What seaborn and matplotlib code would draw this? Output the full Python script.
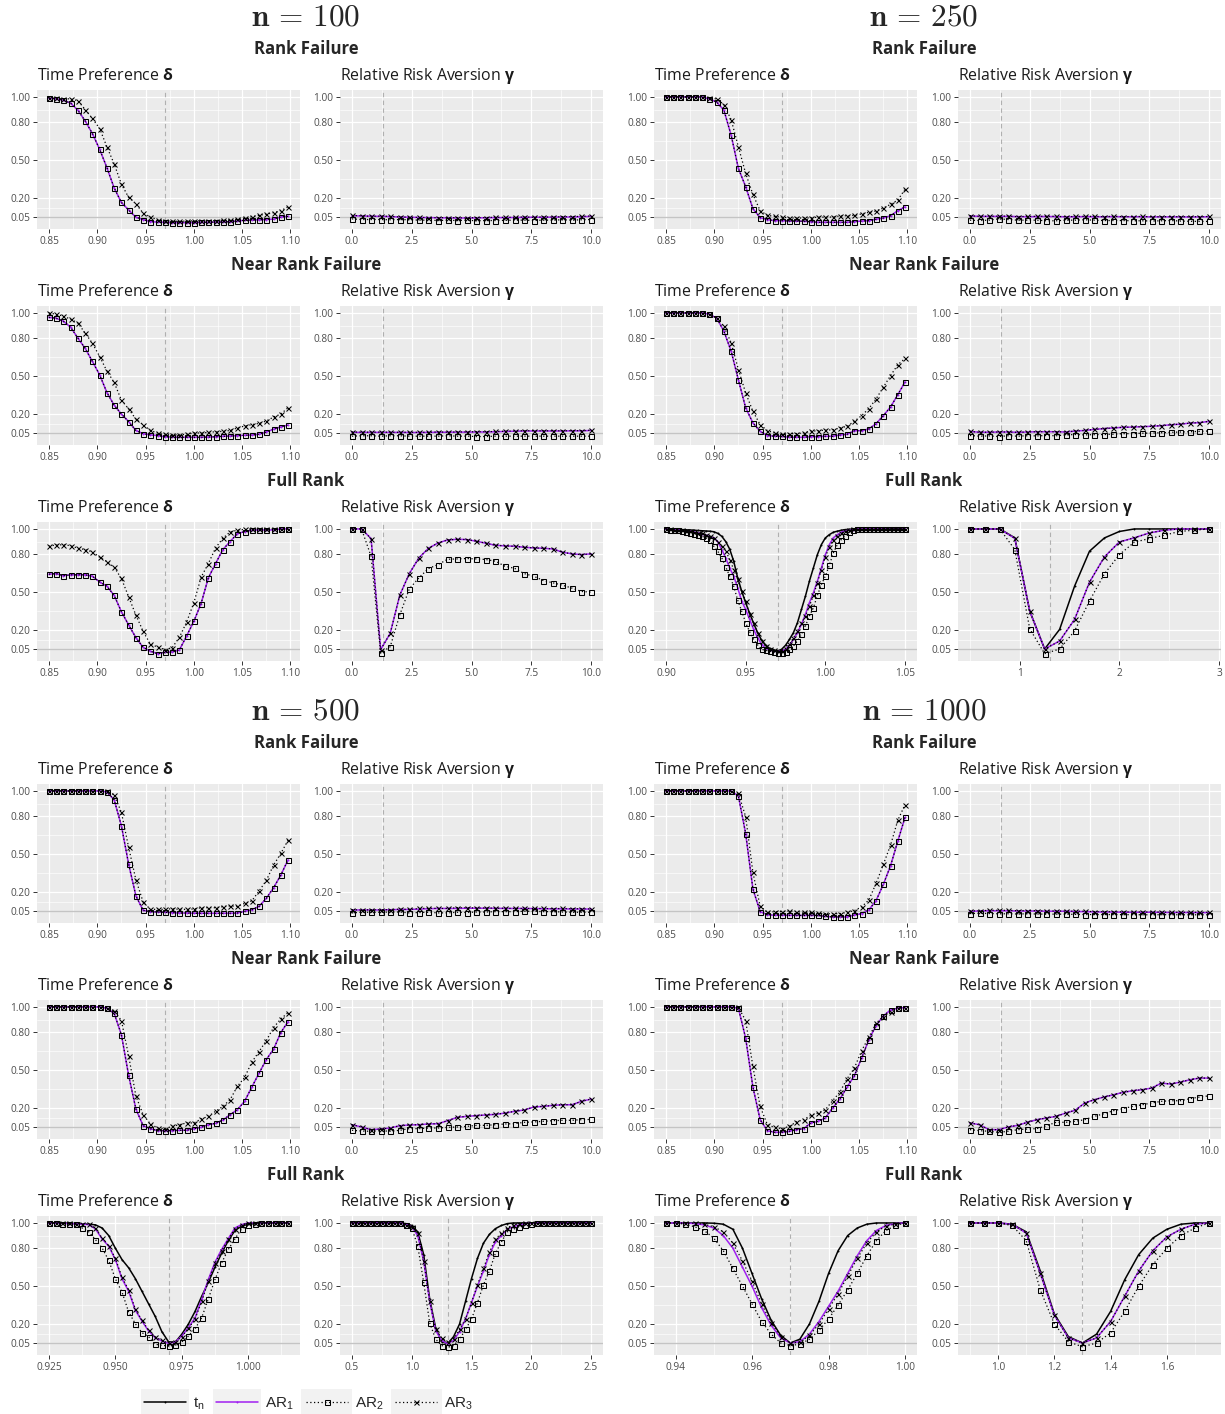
import matplotlib
matplotlib.use("Agg")
import matplotlib.pyplot as plt
from matplotlib.lines import Line2D
from matplotlib.patches import Rectangle
from matplotlib.font_manager import FontProperties
import seaborn as sns

W, H = 1225, 1414

# ---------------- parameter grids ----------------
DELTA = [0.85, 0.8575, 0.865, 0.8725, 0.88, 0.8875, 0.895, 0.9025, 0.91, 0.9175,
         0.925, 0.9325, 0.94, 0.9475, 0.955, 0.9625, 0.97, 0.9775, 0.985, 0.9925,
         1.0, 1.0075, 1.015, 1.0225, 1.03, 1.0375, 1.045, 1.0525, 1.06, 1.0675,
         1.075, 1.0825, 1.09, 1.0975]
GAMMA = [0.0, 0.4, 0.8, 1.2, 1.6, 2.0, 2.4, 2.8, 3.2, 3.6, 4.0, 4.4, 4.8, 5.2, 5.6,
         6.0, 6.4, 6.8, 7.2, 7.6, 8.0, 8.4, 8.8, 9.2, 9.6, 10.0]
DELTA_250_FULL = [0.9, 0.9025, 0.905, 0.9075, 0.91, 0.9125, 0.915, 0.9175, 0.92, 0.9225,
                  0.925, 0.9275, 0.93, 0.9325, 0.935, 0.9375, 0.94, 0.9425, 0.945, 0.9475,
                  0.95, 0.9525, 0.955, 0.9575, 0.96, 0.9625, 0.965, 0.9675, 0.97, 0.9725,
                  0.975, 0.9775, 0.98, 0.9825, 0.985, 0.9875, 0.99, 0.9925, 0.995, 0.9975,
                  1.0, 1.0025, 1.005, 1.0075, 1.01, 1.0125, 1.015, 1.0175, 1.02, 1.0225,
                  1.025, 1.0275, 1.03, 1.0325, 1.035, 1.0375, 1.04, 1.0425, 1.045, 1.0475, 1.05]
GAMMA_250_FULL = [0.5, 0.65, 0.8, 0.95, 1.1, 1.25, 1.4, 1.55, 1.7, 1.85, 2.0, 2.15, 2.3,
                  2.45, 2.6, 2.75, 2.9]
DELTA_500_FULL = [0.925, 0.9275, 0.93, 0.9325, 0.935, 0.9375, 0.94, 0.9425, 0.945, 0.9475,
                  0.95, 0.9525, 0.955, 0.9575, 0.96, 0.9625, 0.965, 0.9675, 0.97, 0.9725,
                  0.975, 0.9775, 0.98, 0.9825, 0.985, 0.9875, 0.99, 0.9925, 0.995, 0.9975,
                  1.0, 1.0025, 1.005, 1.0075, 1.01, 1.0125, 1.015]
GAMMA_500_FULL = [0.5, 0.55, 0.6, 0.65, 0.7, 0.75, 0.8, 0.85, 0.9, 0.95, 1.0, 1.05, 1.1,
                  1.15, 1.2, 1.25, 1.3, 1.35, 1.4, 1.45, 1.5, 1.55, 1.6, 1.65, 1.7, 1.75,
                  1.8, 1.85, 1.9, 1.95, 2.0, 2.05, 2.1, 2.15, 2.2, 2.25, 2.3, 2.35, 2.4,
                  2.45, 2.5]
DELTA_1000_FULL = [0.9375, 0.94, 0.9425, 0.945, 0.9475, 0.95, 0.9525, 0.955, 0.9575, 0.96,
                   0.9625, 0.965, 0.9675, 0.97, 0.9725, 0.975, 0.9775, 0.98, 0.9825, 0.985,
                   0.9875, 0.99, 0.9925, 0.995, 0.9975, 1.0]
GAMMA_1000_FULL = [0.9, 0.95, 1.0, 1.05, 1.1, 1.15, 1.2, 1.25, 1.3, 1.35, 1.4, 1.45, 1.5,
                   1.55, 1.6, 1.65, 1.7, 1.75]

# ---------------- rejection rates: n = 100 ----------------
D100_RF_AR1 = [0.99, 0.985, 0.975, 0.95, 0.895, 0.81, 0.71, 0.585, 0.44, 0.28, 0.165, 0.105,
               0.048, 0.03, 0.013, 0.01, 0.008, 0.005, 0.005, 0.005, 0.005, 0.008, 0.008, 0.01,
               0.01, 0.013, 0.018, 0.024, 0.026, 0.028, 0.03, 0.033, 0.05, 0.055]
D100_RF_AR3 = [0.99, 0.99, 0.985, 0.985, 0.97, 0.90, 0.83, 0.75, 0.605, 0.47, 0.31, 0.205,
               0.155, 0.08, 0.048, 0.03, 0.02, 0.018, 0.015, 0.018, 0.02, 0.02, 0.02, 0.022,
               0.025, 0.028, 0.035, 0.042, 0.052, 0.063, 0.073, 0.084, 0.10, 0.13]
G100_RF_AR1 = [0.06, 0.058, 0.056, 0.055, 0.053, 0.05, 0.048, 0.046, 0.045, 0.044, 0.043, 0.042,
               0.042, 0.043, 0.044, 0.045, 0.045, 0.046, 0.047, 0.048, 0.048, 0.049, 0.05, 0.05,
               0.052, 0.055]
G100_RF_AR2 = [0.035, 0.03, 0.03, 0.03, 0.028, 0.03, 0.028, 0.025, 0.025, 0.022, 0.025, 0.022,
               0.025, 0.02, 0.022, 0.022, 0.023, 0.025, 0.025, 0.022, 0.025, 0.025, 0.028, 0.025,
               0.028, 0.03]
G100_RF_AR3 = [0.062, 0.06, 0.055, 0.057, 0.055, 0.05, 0.048, 0.047, 0.045, 0.044, 0.046, 0.044,
               0.043, 0.045, 0.045, 0.048, 0.047, 0.048, 0.05, 0.048, 0.05, 0.05, 0.052, 0.053,
               0.055, 0.058]
D100_NRF_AR1 = [0.965, 0.958, 0.934, 0.887, 0.80, 0.72, 0.616, 0.51, 0.37, 0.27, 0.20, 0.14,
                0.07, 0.045, 0.035, 0.03, 0.02, 0.018, 0.016, 0.016, 0.016, 0.016, 0.018, 0.02,
                0.024, 0.026, 0.029, 0.032, 0.034, 0.04, 0.058, 0.08, 0.098, 0.113]
D100_NRF_AR3 = [1.0, 0.99, 0.975, 0.95, 0.92, 0.84, 0.76, 0.655, 0.54, 0.45, 0.31, 0.24,
                0.16, 0.115, 0.07, 0.05, 0.043, 0.037, 0.035, 0.04, 0.05, 0.05, 0.055, 0.06,
                0.063, 0.07, 0.09, 0.105, 0.116, 0.126, 0.145, 0.176, 0.20, 0.25]
G100_NRF_AR1 = [0.055, 0.055, 0.055, 0.055, 0.055, 0.055, 0.054, 0.054, 0.055, 0.056, 0.056,
                0.057, 0.057, 0.058, 0.058, 0.06, 0.062, 0.064, 0.066, 0.066, 0.066, 0.066,
                0.066, 0.067, 0.067, 0.07]
G100_NRF_AR2 = [0.025, 0.028, 0.028, 0.025, 0.028, 0.028, 0.025, 0.025, 0.025, 0.025, 0.028,
                0.025, 0.025, 0.022, 0.022, 0.025, 0.025, 0.025, 0.025, 0.025, 0.025, 0.025,
                0.025, 0.025, 0.025, 0.025]
G100_NRF_AR3 = [0.058, 0.057, 0.056, 0.057, 0.056, 0.055, 0.056, 0.055, 0.056, 0.058, 0.057,
                0.058, 0.059, 0.06, 0.06, 0.062, 0.064, 0.066, 0.068, 0.068, 0.067, 0.068,
                0.067, 0.069, 0.068, 0.072]
D100_FR_AR1 = [0.642, 0.647, 0.63, 0.637, 0.637, 0.637, 0.626, 0.58, 0.547, 0.474, 0.345, 0.24,
               0.14, 0.063, 0.032, 0.013, 0.024, 0.026, 0.042, 0.153, 0.27, 0.41, 0.613, 0.726,
               0.837, 0.90, 0.963, 0.979, 0.99, 0.992, 0.992, 0.992, 1.0, 1.0]
D100_FR_AR3 = [0.863, 0.874, 0.874, 0.868, 0.847, 0.837, 0.818, 0.776, 0.742, 0.697, 0.608,
               0.463, 0.318, 0.19, 0.087, 0.066, 0.045, 0.06, 0.142, 0.263, 0.416, 0.618,
               0.726, 0.85, 0.926, 0.976, 0.99, 0.997, 1.0, 1.0, 1.0, 1.0, 1.0, 1.0]
G100_FR_AR1 = [1.0, 1.0, 0.924, 0.045, 0.174, 0.476, 0.647, 0.771, 0.847, 0.889, 0.913, 0.918,
               0.916, 0.903, 0.887, 0.871, 0.866, 0.863, 0.855, 0.85, 0.847, 0.842, 0.816,
               0.803, 0.797, 0.803]
G100_FR_AR2 = [1.0, 1.0, 0.784, 0.018, 0.068, 0.32, 0.526, 0.613, 0.687, 0.718, 0.76, 0.763,
               0.766, 0.763, 0.758, 0.745, 0.705, 0.689, 0.647, 0.626, 0.592, 0.574, 0.555,
               0.532, 0.505, 0.50]

# ---------------- rejection rates: n = 250 ----------------
D250_RF_AR1 = [1.0, 1.0, 1.0, 1.0, 1.0, 1.0, 0.984, 0.96, 0.895, 0.697, 0.434, 0.29, 0.116,
               0.045, 0.029, 0.021, 0.021, 0.018, 0.018, 0.016, 0.013, 0.008, 0.008, 0.008,
               0.008, 0.008, 0.013, 0.018, 0.021, 0.032, 0.042, 0.06, 0.10, 0.13]
D250_RF_AR3 = [1.0, 1.0, 1.0, 1.0, 1.0, 1.0, 0.992, 0.984, 0.94, 0.82, 0.605, 0.395, 0.229,
               0.10, 0.063, 0.055, 0.05, 0.042, 0.042, 0.042, 0.042, 0.05, 0.048, 0.05, 0.058,
               0.06, 0.063, 0.074, 0.087, 0.097, 0.121, 0.15, 0.184, 0.27]
G250_RF_AR1 = [0.058, 0.055, 0.055, 0.055, 0.055, 0.053, 0.052, 0.053, 0.054, 0.053, 0.052,
               0.052, 0.053, 0.052, 0.052, 0.053, 0.052, 0.052, 0.052, 0.051, 0.051, 0.051,
               0.051, 0.05, 0.051, 0.052]
G250_RF_AR2 = [0.025, 0.022, 0.025, 0.035, 0.03, 0.025, 0.025, 0.025, 0.02, 0.02, 0.025, 0.025,
               0.028, 0.025, 0.022, 0.022, 0.022, 0.02, 0.02, 0.018, 0.02, 0.022, 0.018, 0.016,
               0.015, 0.015]
G250_RF_AR3 = [0.06, 0.055, 0.055, 0.057, 0.057, 0.052, 0.055, 0.055, 0.056, 0.055, 0.052,
               0.054, 0.055, 0.055, 0.052, 0.055, 0.053, 0.053, 0.054, 0.052, 0.052, 0.053,
               0.052, 0.052, 0.052, 0.054]
D250_NRF_AR1 = [1.0, 1.0, 1.0, 1.0, 1.0, 1.0, 0.99, 0.96, 0.855, 0.697, 0.47, 0.25, 0.13,
                0.063, 0.03, 0.024, 0.024, 0.016, 0.016, 0.016, 0.021, 0.021, 0.024, 0.024,
                0.034, 0.04, 0.068, 0.068, 0.082, 0.124, 0.187, 0.256, 0.353, 0.454]
D250_NRF_AR3 = [1.0, 1.0, 1.0, 1.0, 1.0, 1.0, 0.995, 0.958, 0.895, 0.763, 0.552, 0.367, 0.222,
                0.116, 0.069, 0.05, 0.045, 0.045, 0.045, 0.05, 0.066, 0.066, 0.074, 0.074,
                0.09, 0.103, 0.143, 0.187, 0.243, 0.32, 0.412, 0.504, 0.59, 0.64]
G250_NRF_AR1 = [0.062, 0.056, 0.056, 0.058, 0.058, 0.055, 0.058, 0.06, 0.06, 0.06, 0.058,
                0.065, 0.07, 0.078, 0.085, 0.09, 0.095, 0.097, 0.1, 0.103, 0.108, 0.115,
                0.12, 0.128, 0.132, 0.142]
G250_NRF_AR2 = [0.03, 0.025, 0.027, 0.022, 0.028, 0.025, 0.028, 0.027, 0.03, 0.028, 0.035,
                0.038, 0.035, 0.037, 0.038, 0.04, 0.045, 0.045, 0.048, 0.05, 0.052, 0.055,
                0.058, 0.06, 0.063, 0.066]
D250_FR_TN = [1.0, 0.998, 0.997, 0.996, 0.995, 0.993, 0.992, 0.99, 0.988, 0.986, 0.984, 0.982,
              0.978, 0.965, 0.942, 0.9, 0.84, 0.745, 0.613, 0.508, 0.416, 0.332, 0.253, 0.18,
              0.12, 0.08, 0.055, 0.042, 0.034, 0.047, 0.079, 0.126, 0.18, 0.258, 0.363, 0.468,
              0.587, 0.692, 0.797, 0.876, 0.929, 0.955, 0.974, 0.982, 0.99, 0.995, 0.997, 1.0,
              1.0, 1.0, 1.0, 1.0, 1.0, 1.0, 1.0, 1.0, 1.0, 1.0, 1.0, 1.0, 1.0]
D250_FR_AR1 = [0.998, 0.997, 0.995, 0.993, 0.99, 0.985, 0.98, 0.975, 0.97, 0.96, 0.95, 0.94,
               0.93, 0.9, 0.837, 0.77, 0.69, 0.626, 0.534, 0.43, 0.363, 0.284, 0.205, 0.14,
               0.087, 0.055, 0.042, 0.034, 0.032, 0.034, 0.047, 0.08, 0.126, 0.18, 0.245,
               0.324, 0.416, 0.495, 0.587, 0.69, 0.797, 0.876, 0.93, 0.955, 0.974, 0.985, 0.99,
               0.995, 1.0, 1.0, 1.0, 1.0, 1.0, 1.0, 1.0, 1.0, 1.0, 1.0, 1.0, 1.0, 1.0]
D250_FR_AR2 = [1.0, 0.995, 0.99, 0.988, 0.985, 0.976, 0.968, 0.96, 0.955, 0.942, 0.93, 0.916,
               0.863, 0.824, 0.771, 0.7, 0.626, 0.547, 0.437, 0.35, 0.258, 0.187, 0.126, 0.082,
               0.047, 0.04, 0.032, 0.026, 0.021, 0.016, 0.03, 0.047, 0.074, 0.113, 0.166, 0.232,
               0.311, 0.376, 0.474, 0.56, 0.626, 0.713, 0.81, 0.876, 0.916, 0.947, 0.974, 0.99,
               1.0, 1.0, 1.0, 1.0, 1.0, 1.0, 1.0, 1.0, 1.0, 1.0, 1.0, 1.0, 1.0]
D250_FR_AR3 = [1.0, 0.997, 0.995, 0.993, 0.99, 0.987, 0.983, 0.975, 0.97, 0.965, 0.955, 0.945,
               0.93, 0.9, 0.863, 0.824, 0.758, 0.679, 0.6, 0.508, 0.429, 0.324, 0.258, 0.179,
               0.113, 0.074, 0.053, 0.042, 0.034, 0.037, 0.053, 0.087, 0.14, 0.192, 0.253,
               0.311, 0.39, 0.474, 0.574, 0.679, 0.779, 0.858, 0.91, 0.947, 0.968, 0.982, 0.99,
               0.997, 1.0, 1.0, 1.0, 1.0, 1.0, 1.0, 1.0, 1.0, 1.0, 1.0, 1.0, 1.0, 1.0]
G250_FR_TN = [1.0, 1.0, 1.0, 0.93, 0.35, 0.05, 0.205, 0.547, 0.824, 0.929, 0.98, 1.0, 1.0,
              1.0, 1.0, 1.0, 1.0]
G250_FR_AR1 = [1.0, 1.0, 1.0, 0.925, 0.35, 0.05, 0.113, 0.284, 0.579, 0.779, 0.897, 0.93,
               0.968, 0.99, 1.0, 1.0, 1.0]
G250_FR_AR2 = [1.0, 1.0, 1.0, 0.837, 0.21, 0.013, 0.05, 0.192, 0.43, 0.645, 0.797, 0.895,
               0.924, 0.95, 0.98, 0.99, 1.0]

# ---------------- rejection rates: n = 500 ----------------
D500_RF_AR1 = [1.0, 1.0, 1.0, 1.0, 1.0, 1.0, 1.0, 1.0, 0.992, 0.93, 0.724, 0.42, 0.17, 0.055,
               0.045, 0.042, 0.04, 0.037, 0.034, 0.034, 0.032, 0.032, 0.032, 0.032, 0.032,
               0.032, 0.034, 0.047, 0.06, 0.087, 0.15, 0.234, 0.334, 0.455]
D500_RF_AR3 = [1.0, 1.0, 1.0, 1.0, 1.0, 1.0, 1.0, 1.0, 0.997, 0.97, 0.83, 0.553, 0.297, 0.121,
               0.063, 0.063, 0.063, 0.068, 0.063, 0.063, 0.066, 0.076, 0.076, 0.076, 0.084,
               0.09, 0.087, 0.11, 0.13, 0.208, 0.292, 0.413, 0.505, 0.61]
G500_RF_AR1 = [0.058, 0.058, 0.058, 0.058, 0.06, 0.062, 0.062, 0.065, 0.068, 0.07, 0.07, 0.07,
               0.072, 0.072, 0.072, 0.071, 0.07, 0.07, 0.07, 0.069, 0.068, 0.067, 0.067, 0.066,
               0.066, 0.065]
G500_RF_AR2 = [0.035, 0.04, 0.04, 0.04, 0.042, 0.042, 0.035, 0.038, 0.04, 0.035, 0.035, 0.04,
               0.038, 0.042, 0.042, 0.045, 0.045, 0.045, 0.048, 0.048, 0.045, 0.045, 0.042, 0.04,
               0.04, 0.04]
G500_RF_AR3 = [0.06, 0.058, 0.06, 0.06, 0.06, 0.065, 0.062, 0.07, 0.072, 0.07, 0.07, 0.076,
               0.076, 0.074, 0.074, 0.072, 0.072, 0.07, 0.07, 0.07, 0.07, 0.068, 0.07, 0.068,
               0.068, 0.066]
D500_NRF_AR1 = [1.0, 1.0, 1.0, 1.0, 1.0, 1.0, 1.0, 1.0, 0.99, 0.95, 0.78, 0.458, 0.192, 0.06,
                0.037, 0.021, 0.021, 0.021, 0.024, 0.024, 0.037, 0.047, 0.068, 0.079, 0.105,
                0.147, 0.187, 0.253, 0.366, 0.476, 0.584, 0.666, 0.797, 0.884]
D500_NRF_AR3 = [1.0, 1.0, 1.0, 1.0, 1.0, 1.0, 1.0, 1.0, 0.995, 0.968, 0.892, 0.613, 0.295,
                0.147, 0.074, 0.042, 0.037, 0.055, 0.068, 0.082, 0.082, 0.113, 0.134, 0.174,
                0.213, 0.266, 0.371, 0.442, 0.563, 0.647, 0.734, 0.837, 0.905, 0.955]
G500_NRF_AR1 = [0.068, 0.05, 0.029, 0.034, 0.042, 0.06, 0.066, 0.068, 0.074, 0.076, 0.1, 0.126,
                0.134, 0.14, 0.145, 0.15, 0.16, 0.174, 0.184, 0.208, 0.213, 0.221, 0.226, 0.226,
                0.253, 0.271]
G500_NRF_AR2 = [0.024, 0.018, 0.016, 0.021, 0.016, 0.024, 0.037, 0.037, 0.042, 0.042, 0.047,
                0.05, 0.055, 0.063, 0.063, 0.068, 0.074, 0.076, 0.087, 0.09, 0.095, 0.1, 0.103,
                0.103, 0.108, 0.11]
D500_FR_TN = [1.0, 1.0, 1.0, 0.998, 0.995, 0.993, 0.99, 0.985, 0.96, 0.9, 0.8, 0.71, 0.645,
              0.56, 0.46, 0.36, 0.26, 0.14, 0.06, 0.055, 0.12, 0.2, 0.3, 0.42, 0.53, 0.65, 0.76,
              0.86, 0.94, 0.975, 0.99, 0.995, 1.0, 1.0, 1.0, 1.0, 1.0]
D500_FR_AR1 = [1.0, 0.999, 0.997, 0.995, 0.993, 0.99, 0.987, 0.953, 0.874, 0.816, 0.71, 0.558,
               0.46, 0.31, 0.224, 0.145, 0.092, 0.066, 0.047, 0.058, 0.105, 0.171, 0.25, 0.395,
               0.553, 0.69, 0.79, 0.876, 0.96, 0.987, 1.0, 1.0, 1.0, 1.0, 1.0, 1.0, 1.0]
D500_FR_AR2 = [1.0, 1.0, 0.995, 0.99, 0.99, 0.96, 0.93, 0.868, 0.803, 0.703, 0.558, 0.453,
               0.295, 0.203, 0.132, 0.1, 0.04, 0.032, 0.026, 0.032, 0.058, 0.105, 0.163, 0.25,
               0.4, 0.553, 0.684, 0.79, 0.874, 0.953, 0.98, 0.995, 1.0, 1.0, 1.0, 1.0, 1.0]
D500_FR_AR3 = [1.0, 1.0, 0.998, 0.996, 0.994, 0.99, 0.988, 0.96, 0.88, 0.82, 0.72, 0.57, 0.47,
               0.32, 0.23, 0.15, 0.1, 0.07, 0.05, 0.06, 0.1, 0.165, 0.24, 0.38, 0.54, 0.68,
               0.78, 0.87, 0.955, 0.985, 1.0, 1.0, 1.0, 1.0, 1.0, 1.0, 1.0]
G500_FR_TN = [1.0, 1.0, 1.0, 1.0, 1.0, 1.0, 1.0, 1.0, 1.0, 0.995, 0.98, 0.93, 0.75, 0.4, 0.17,
              0.06, 0.045, 0.1, 0.2, 0.38, 0.56, 0.72, 0.84, 0.91, 0.955, 0.98, 0.995, 1.0,
              1.0, 1.0, 1.0, 1.0, 1.0, 1.0, 1.0, 1.0, 1.0, 1.0, 1.0, 1.0, 1.0]
G500_FR_AR1 = [1.0, 1.0, 1.0, 1.0, 1.0, 1.0, 1.0, 1.0, 1.0, 0.99, 0.97, 0.9, 0.7, 0.38, 0.15,
               0.07, 0.045, 0.07, 0.14, 0.24, 0.37, 0.5, 0.62, 0.75, 0.85, 0.9, 0.95, 0.97,
               0.985, 0.995, 1.0, 1.0, 1.0, 1.0, 1.0, 1.0, 1.0, 1.0, 1.0, 1.0, 1.0]
G500_FR_AR2 = [1.0, 1.0, 1.0, 1.0, 1.0, 1.0, 1.0, 1.0, 1.0, 0.98, 0.96, 0.82, 0.53, 0.21, 0.08,
               0.03, 0.015, 0.03, 0.08, 0.157, 0.24, 0.37, 0.51, 0.62, 0.76, 0.85, 0.93, 0.95,
               0.97, 0.985, 0.995, 1.0, 1.0, 1.0, 1.0, 1.0, 1.0, 1.0, 1.0, 1.0, 1.0]
G500_FR_AR3 = [1.0, 1.0, 1.0, 1.0, 1.0, 1.0, 1.0, 1.0, 1.0, 0.987, 0.97, 0.92, 0.7, 0.38, 0.16,
               0.09, 0.055, 0.08, 0.157, 0.24, 0.37, 0.51, 0.64, 0.77, 0.87, 0.92, 0.96, 0.987,
               0.995, 1.0, 1.0, 1.0, 1.0, 1.0, 1.0, 1.0, 1.0, 1.0, 1.0, 1.0, 1.0]

# ---------------- rejection rates: n = 1000 ----------------
D1000_RF_AR1 = [1.0, 1.0, 1.0, 1.0, 1.0, 1.0, 1.0, 1.0, 1.0, 1.0, 0.96, 0.663, 0.224, 0.045,
                0.021, 0.016, 0.016, 0.016, 0.015, 0.015, 0.015, 0.015, 0.008, 0.003, 0.003,
                0.003, 0.018, 0.029, 0.058, 0.132, 0.26, 0.408, 0.603, 0.792]
D1000_RF_AR3 = [1.0, 1.0, 1.0, 1.0, 1.0, 1.0, 1.0, 1.0, 1.0, 1.0, 0.98, 0.797, 0.355, 0.089,
                0.039, 0.045, 0.045, 0.05, 0.045, 0.039, 0.039, 0.032, 0.029, 0.029, 0.029,
                0.039, 0.053, 0.082, 0.137, 0.268, 0.418, 0.571, 0.768, 0.892]
G1000_RF_AR1 = [0.048, 0.05, 0.052, 0.052, 0.052, 0.05, 0.05, 0.05, 0.048, 0.048, 0.048, 0.046,
                0.045, 0.043, 0.042, 0.042, 0.04, 0.04, 0.04, 0.04, 0.039, 0.038, 0.038, 0.038,
                0.037, 0.037]
G1000_RF_AR2 = [0.03, 0.032, 0.03, 0.028, 0.028, 0.026, 0.028, 0.026, 0.025, 0.025, 0.025,
                0.023, 0.022, 0.022, 0.022, 0.022, 0.021, 0.021, 0.02, 0.02, 0.021, 0.021, 0.02,
                0.02, 0.02, 0.02]
G1000_RF_AR3 = [0.05, 0.052, 0.055, 0.056, 0.055, 0.052, 0.053, 0.052, 0.05, 0.05, 0.05, 0.048,
                0.048, 0.045, 0.045, 0.044, 0.043, 0.042, 0.042, 0.042, 0.041, 0.04, 0.04, 0.04,
                0.039, 0.04]
D1000_NRF_AR1 = [1.0, 1.0, 1.0, 1.0, 1.0, 1.0, 1.0, 1.0, 1.0, 1.0, 0.99, 0.753, 0.366, 0.108,
                 0.021, 0.008, 0.008, 0.016, 0.029, 0.037, 0.082, 0.095, 0.121, 0.2, 0.271,
                 0.366, 0.455, 0.595, 0.74, 0.853, 0.929, 0.976, 0.99, 0.995]
D1000_NRF_AR3 = [1.0, 1.0, 1.0, 1.0, 1.0, 1.0, 1.0, 1.0, 1.0, 1.0, 0.997, 0.892, 0.529, 0.213,
                 0.068, 0.047, 0.037, 0.055, 0.09, 0.108, 0.142, 0.16, 0.187, 0.258, 0.326,
                 0.432, 0.516, 0.653, 0.761, 0.871, 0.924, 0.963, 0.995, 0.995]
G1000_NRF_AR1 = [0.082, 0.068, 0.029, 0.029, 0.05, 0.063, 0.087, 0.108, 0.121, 0.134, 0.16,
                 0.182, 0.24, 0.266, 0.287, 0.305, 0.324, 0.337, 0.345, 0.358, 0.397, 0.39,
                 0.405, 0.424, 0.437, 0.437]
G1000_NRF_AR2 = [0.029, 0.021, 0.016, 0.008, 0.016, 0.029, 0.034, 0.037, 0.06, 0.087, 0.087,
                 0.095, 0.108, 0.134, 0.155, 0.179, 0.195, 0.213, 0.226, 0.24, 0.253, 0.258,
                 0.258, 0.274, 0.287, 0.297]
D1000_FR_TN = [1.0, 1.0, 1.0, 1.0, 1.0, 0.998, 0.99, 0.95, 0.8, 0.6, 0.4, 0.23, 0.11, 0.05,
               0.08, 0.2, 0.38, 0.6, 0.78, 0.9, 0.96, 0.99, 1.0, 1.0, 1.0, 1.0]
D1000_FR_AR1 = [1.0, 1.0, 1.0, 0.995, 0.985, 0.96, 0.9, 0.8, 0.65, 0.5, 0.33, 0.19, 0.09, 0.05,
                0.06, 0.12, 0.22, 0.34, 0.46, 0.6, 0.74, 0.86, 0.94, 0.98, 0.995, 1.0]
D1000_FR_AR2 = [1.0, 1.0, 0.99, 0.97, 0.94, 0.88, 0.78, 0.64, 0.5, 0.36, 0.22, 0.12, 0.05, 0.03,
                0.04, 0.08, 0.15, 0.24, 0.35, 0.47, 0.6, 0.74, 0.86, 0.94, 0.98, 1.0]
D1000_FR_AR3 = [1.0, 1.0, 1.0, 0.997, 0.99, 0.97, 0.93, 0.84, 0.7, 0.54, 0.36, 0.21, 0.1, 0.05,
                0.055, 0.11, 0.2, 0.32, 0.44, 0.58, 0.72, 0.84, 0.93, 0.975, 0.99, 1.0]
G1000_FR_TN = [1.0, 1.0, 1.0, 0.99, 0.93, 0.62, 0.28, 0.1, 0.05, 0.12, 0.3, 0.55, 0.75, 0.88,
               0.95, 0.99, 1.0, 1.0]
G1000_FR_AR1 = [1.0, 1.0, 1.0, 0.99, 0.92, 0.6, 0.27, 0.09, 0.05, 0.09, 0.22, 0.42, 0.62, 0.78,
                0.89, 0.95, 0.99, 1.0]
G1000_FR_AR2 = [1.0, 1.0, 1.0, 0.98, 0.86, 0.47, 0.2, 0.06, 0.02, 0.05, 0.13, 0.3, 0.5, 0.67,
                0.8, 0.9, 0.96, 1.0]

# ---------------- axis ticks ----------------
D_TICKS = [0.85, 0.90, 0.95, 1.00, 1.05, 1.10]
D_LABELS = ["0.85", "0.90", "0.95", "1.00", "1.05", "1.10"]
G_TICKS = [0.0, 2.5, 5.0, 7.5, 10.0]
G_LABELS = ["0.0", "2.5", "5.0", "7.5", "10.0"]
Y_TICKS = [0.05, 0.20, 0.50, 0.80, 1.00]
Y_LABELS = ["0.05", "0.20", "0.50", "0.80", "1.00"]

SERIES = ["tn", "AR1", "AR2", "AR3"]
LEGEND_LABELS = [r"$\mathregular{t_n}$", r"$\mathregular{AR_1}$",
                 r"$\mathregular{AR_2}$", r"$\mathregular{AR_3}$"]
ROWS = ["Rank Failure", "Near Rank Failure", "Full Rank"]

# (n, row, col): x, [tn, AR1, AR2, AR3], ticks, labels
PANELS = {
    (100, 0, 0): (DELTA, [None, D100_RF_AR1, D100_RF_AR1, D100_RF_AR3], D_TICKS, D_LABELS),
    (100, 0, 1): (GAMMA, [None, G100_RF_AR1, G100_RF_AR2, G100_RF_AR3], G_TICKS, G_LABELS),
    (100, 1, 0): (DELTA, [None, D100_NRF_AR1, D100_NRF_AR1, D100_NRF_AR3], D_TICKS, D_LABELS),
    (100, 1, 1): (GAMMA, [None, G100_NRF_AR1, G100_NRF_AR2, G100_NRF_AR3], G_TICKS, G_LABELS),
    (100, 2, 0): (DELTA, [None, D100_FR_AR1, D100_FR_AR1, D100_FR_AR3], D_TICKS, D_LABELS),
    (100, 2, 1): (GAMMA, [None, G100_FR_AR1, G100_FR_AR2, G100_FR_AR1], G_TICKS, G_LABELS),
    (250, 0, 0): (DELTA, [None, D250_RF_AR1, D250_RF_AR1, D250_RF_AR3], D_TICKS, D_LABELS),
    (250, 0, 1): (GAMMA, [None, G250_RF_AR1, G250_RF_AR2, G250_RF_AR3], G_TICKS, G_LABELS),
    (250, 1, 0): (DELTA, [None, D250_NRF_AR1, D250_NRF_AR1, D250_NRF_AR3], D_TICKS, D_LABELS),
    (250, 1, 1): (GAMMA, [None, G250_NRF_AR1, G250_NRF_AR2, G250_NRF_AR1], G_TICKS, G_LABELS),
    (250, 2, 0): (DELTA_250_FULL, [D250_FR_TN, D250_FR_AR1, D250_FR_AR2, D250_FR_AR3],
                  [0.90, 0.95, 1.00, 1.05], ["0.90", "0.95", "1.00", "1.05"]),
    (250, 2, 1): (GAMMA_250_FULL, [G250_FR_TN, G250_FR_AR1, G250_FR_AR2, G250_FR_AR1],
                  [1, 2, 3], ["1", "2", "3"]),
    (500, 0, 0): (DELTA, [None, D500_RF_AR1, D500_RF_AR1, D500_RF_AR3], D_TICKS, D_LABELS),
    (500, 0, 1): (GAMMA, [None, G500_RF_AR1, G500_RF_AR2, G500_RF_AR3], G_TICKS, G_LABELS),
    (500, 1, 0): (DELTA, [None, D500_NRF_AR1, D500_NRF_AR1, D500_NRF_AR3], D_TICKS, D_LABELS),
    (500, 1, 1): (GAMMA, [None, G500_NRF_AR1, G500_NRF_AR2, G500_NRF_AR1], G_TICKS, G_LABELS),
    (500, 2, 0): (DELTA_500_FULL, [D500_FR_TN, D500_FR_AR1, D500_FR_AR2, D500_FR_AR3],
                  [0.925, 0.950, 0.975, 1.000], ["0.925", "0.950", "0.975", "1.000"]),
    (500, 2, 1): (GAMMA_500_FULL, [G500_FR_TN, G500_FR_AR1, G500_FR_AR2, G500_FR_AR3],
                  [0.5, 1.0, 1.5, 2.0, 2.5], ["0.5", "1.0", "1.5", "2.0", "2.5"]),
    (1000, 0, 0): (DELTA, [None, D1000_RF_AR1, D1000_RF_AR1, D1000_RF_AR3], D_TICKS, D_LABELS),
    (1000, 0, 1): (GAMMA, [None, G1000_RF_AR1, G1000_RF_AR2, G1000_RF_AR3], G_TICKS, G_LABELS),
    (1000, 1, 0): (DELTA, [None, D1000_NRF_AR1, D1000_NRF_AR1, D1000_NRF_AR3], D_TICKS, D_LABELS),
    (1000, 1, 1): (GAMMA, [None, G1000_NRF_AR1, G1000_NRF_AR2, G1000_NRF_AR1], G_TICKS, G_LABELS),
    (1000, 2, 0): (DELTA_1000_FULL, [D1000_FR_TN, D1000_FR_AR1, D1000_FR_AR2, D1000_FR_AR3],
                   [0.94, 0.96, 0.98, 1.00], ["0.94", "0.96", "0.98", "1.00"]),
    (1000, 2, 1): (GAMMA_1000_FULL, [G1000_FR_TN, G1000_FR_AR1, G1000_FR_AR2, G1000_FR_AR1],
                   [1.0, 1.2, 1.4, 1.6], ["1.0", "1.2", "1.4", "1.6"]),
}
TRUE_VALUE = [0.97, 1.3]

# ---------------- style ----------------
sns.set_style("darkgrid", {"axes.facecolor": "#EBEBEB", "grid.color": "white"})
plt.rcParams["font.family"] = ["Open Sans", "DejaVu Sans"]
plt.rcParams["mathtext.fontset"] = "custom"
plt.rcParams["mathtext.rm"] = "Open Sans"
plt.rcParams["mathtext.bf"] = "Open Sans:bold"
plt.rcParams["mathtext.it"] = "Open Sans:italic"

PURPLE = "#A020F0"
STYLE = {
    "tn": dict(color="black", linewidth=1.1, linestyle="-", marker="o", markersize=1.4,
               markeredgewidth=0, markeredgecolor="black"),
    "AR1": dict(color=PURPLE, linewidth=1.1, linestyle="-", marker="o", markersize=1.4,
                markeredgewidth=0, markeredgecolor=PURPLE),
    "AR2": dict(color="black", linewidth=0.9, linestyle=(0, (1, 2)), marker="s", markersize=3.6,
                markerfacecolor="none", markeredgecolor="black", markeredgewidth=0.75),
    "AR3": dict(color="black", linewidth=0.9, linestyle=(0, (1, 2)), marker="x", markersize=3.6,
                markeredgecolor="black", markeredgewidth=0.75),
}

BLOCK = {100: (0, 0), 250: (1, 0), 500: (0, 1), 1000: (1, 1)}
COL_X = [[37, 340], [654, 958]]
ROW_TOP = [[90, 306, 522], [784, 1000, 1216]]
BLOCK_CX = [306, 924]
PW, PH = 263, 139

fig = plt.figure(figsize=(W / 100, H / 100), dpi=100)


def ftext(x, y, s, **kw):
    return fig.text(x / W, 1 - y / H, s, **kw)


def minors(ticks, lo, hi):
    step = ticks[1] - ticks[0]
    cand = [t - step / 2 for t in ticks] + [ticks[-1] + step / 2]
    return [c for c in cand if lo <= c <= hi]


for (n, row, col), (xs, ys, ticks, labels) in PANELS.items():
    bx, by = BLOCK[n]
    x0, top = COL_X[bx][col], ROW_TOP[by][row]
    ax = fig.add_axes([x0 / W, 1 - (top + PH) / H, PW / W, PH / H])
    ax.set_facecolor("#EBEBEB")
    for s in ax.spines.values():
        s.set_visible(False)

    lo, hi = min(xs), max(xs)
    pad = 0.05 * (hi - lo)
    ax.set_xlim(lo - pad, hi + pad)
    ax.set_ylim(-0.045, 1.055)

    ax.axhline(0.05, color="#C4C4C4", lw=1.0, zorder=1.2)
    ax.axvline(TRUE_VALUE[col], color="#B0B0B0", lw=0.8, ls=(0, (4, 3)), zorder=1.2)

    for key, yv in zip(SERIES, ys):
        if yv is None:
            continue
        sns.lineplot(x=xs, y=yv, ax=ax, sort=False, errorbar=None, legend=False,
                     zorder=2 + SERIES.index(key) * 0.1, **STYLE[key])

    ax.set_xticks(ticks)
    ax.set_xticklabels(labels)
    ax.set_xticks(minors(ticks, lo - pad, hi + pad), minor=True)
    ax.set_yticks(Y_TICKS)
    ax.set_yticklabels(Y_LABELS)
    ax.set_yticks([0.125, 0.35, 0.65, 0.9], minor=True)
    ax.grid(which="major", color="white", lw=0.9)
    ax.grid(which="minor", color="white", lw=0.45)
    ax.set_axisbelow(True)
    ax.tick_params(which="major", bottom=True, left=True, length=3, width=0.7,
                   color="#333333", labelsize=7.3, labelcolor="#4D4D4D", pad=2)
    ax.tick_params(which="minor", length=0)
    ax.set_xlabel("")
    ax.set_ylabel("")

    title = (r"Time Preference $\mathbf{\delta}$" if col == 0
             else r"Relative Risk Aversion $\mathbf{\gamma}$")
    ftext(x0, top - 10, title, fontsize=11.4, va="baseline", ha="left", color="#1A1A1A")
    if col == 0:
        ftext(BLOCK_CX[bx], top - 36, ROWS[row], fontsize=12.1, fontweight="bold",
              va="baseline", ha="center")
        if row == 0:
            ftext(BLOCK_CX[bx], top - 64.5, r"$\mathbf{n\,=\,%d}$" % n, fontsize=22.5,
                  va="baseline", ha="center", math_fontfamily="cm")

# ---------------- legend ----------------
handles = [Line2D([], [], **STYLE[k]) for k in SERIES]
leg = fig.legend(handles, LEGEND_LABELS, loc="center left",
                 bbox_to_anchor=(144 / W, 1 - 1404 / H), ncol=4, frameon=False,
                 handlelength=2.75, handletextpad=0.45, columnspacing=0.78,
                 borderpad=0, borderaxespad=0,
                 prop=FontProperties(family="Liberation Sans", size=11))
fig.canvas.draw()
renderer = fig.canvas.get_renderer()
for h in leg.legend_handles:
    bb = h.get_window_extent(renderer)
    fig.add_artist(Rectangle(((bb.x0 - 2) / W, 0), (bb.width + 4) / W, 25 / H,
                             transform=fig.transFigure, facecolor="#F2F2F2",
                             edgecolor="none", zorder=0.5))

fig.savefig("out.png", dpi=100)
